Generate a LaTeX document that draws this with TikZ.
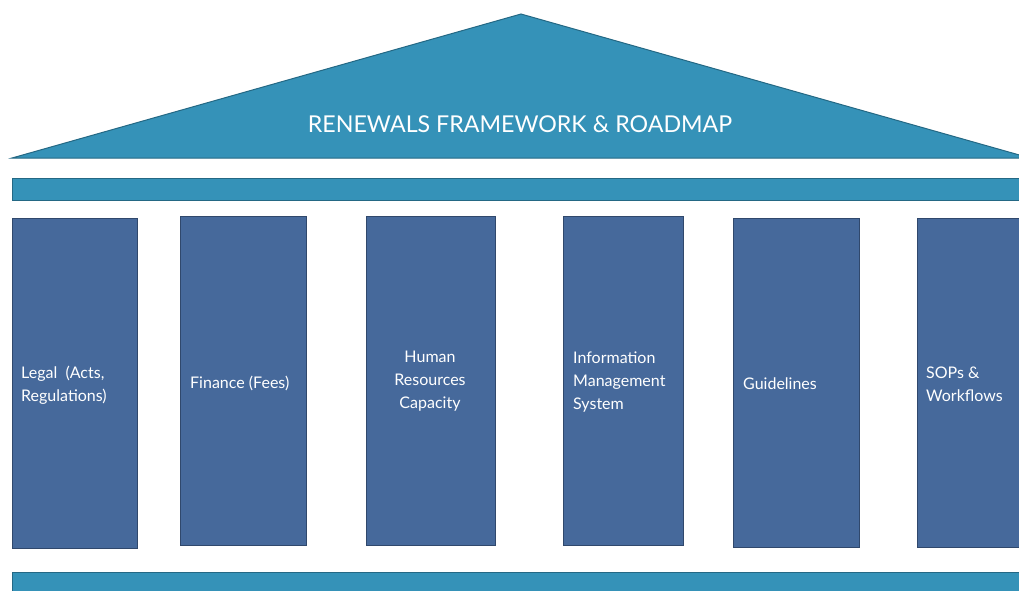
\documentclass[tikz,border=0pt]{standalone}
\usepackage{fontspec}
\setmainfont{Lato}
\definecolor{roofc}{RGB}{53,146,184}
\definecolor{roofb}{RGB}{36,104,132}
\definecolor{pillc}{RGB}{70,105,155}
\definecolor{pillb}{RGB}{48,72,108}
\begin{document}
\begin{tikzpicture}[x=1pt,y=-1pt,
  roofpart/.style={fill=roofc,draw=roofb,line width=1pt},
  pillar/.style={fill=pillc,draw=pillb,line width=1pt,anchor=north west,inner sep=0pt},
  lbl/.style={text=white,font=\fontsize{16}{23}\selectfont,align=left,inner sep=0pt,anchor=west},
]
\useasboundingbox (0,0) rectangle (1019,590);
% roof
\draw[roofpart] (12,158) -- (521,14) -- (1030,158) -- cycle;
\node[text=white,font=\fontsize{23.2}{26}\selectfont,inner sep=0pt] (title) at (520,124) {RENEWALS FRAMEWORK \& ROADMAP};
% beam
\draw[roofpart] (12,178) rectangle (1030,200);
% pillars
\node[pillar,minimum width=125pt,minimum height=330pt] (p1) at (12,218) {};
\node[pillar,minimum width=126pt,minimum height=329pt] (p2) at (180,216) {};
\node[pillar,minimum width=129pt,minimum height=329pt] (p3) at (366,216) {};
\node[pillar,minimum width=120pt,minimum height=329pt] (p4) at (563,216) {};
\node[pillar,minimum width=126pt,minimum height=329pt] (p5) at (733,218) {};
\node[pillar,minimum width=126pt,minimum height=329pt] (p6) at (917,218) {};
% labels
\node[lbl] (t1) at (21,385) {Legal\ \ (Acts,\\Regulations)};
\node[lbl] (t2) at (190,383) {Finance (Fees)};
\node[lbl,align=center,anchor=center] (t3) at (430,381) {Human\\Resources\\Capacity};
\node[lbl] (t4) at (573,382) {Information\\Management\\System};
\node[lbl] (t5) at (743,384) {Guidelines};
\node[lbl] (t6) at (926,384) {SOPs \&\\Workflows};
% base
\draw[roofpart] (12,572) rectangle (1030,600);
\end{tikzpicture}
\end{document}
